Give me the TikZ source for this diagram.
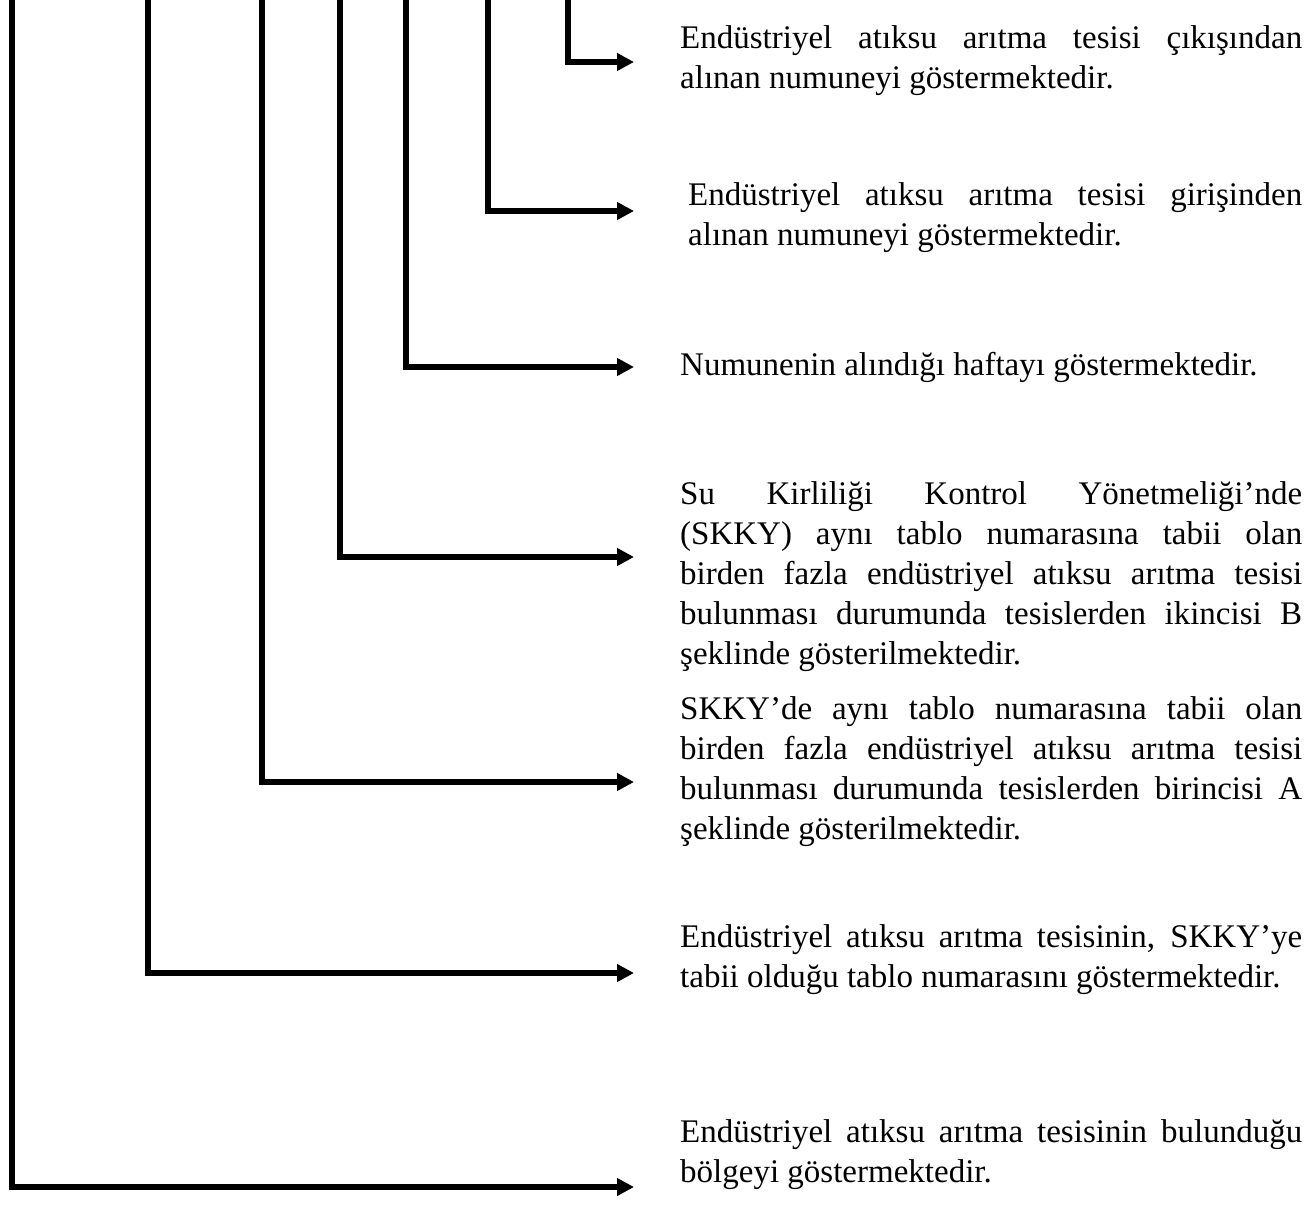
\documentclass[tikz,border=0pt]{standalone}
\usepackage{fontspec}
\setmainfont{Liberation Serif}
\usetikzlibrary{arrows.meta}
\hyphenpenalty=10000
\exhyphenpenalty=10000
\begin{document}
\begin{tikzpicture}[x=1pt,y=-1pt,
  leader/.style={line width=5.5pt,line join=miter,-{Triangle[length=17pt,width=17pt]}},
  desc/.style={anchor=west,inner sep=0pt,text width=622pt,align=justify,
    font=\fontsize{33pt}{40pt}\selectfont}]
\useasboundingbox (0,0) rectangle (1306,1223);
% tops of the lines
\coordinate (t1) at (568,0);
\coordinate (t2) at (488,0);
\coordinate (t3) at (406,0);
\coordinate (t4) at (340,0);
\coordinate (t5) at (262,0);
\coordinate (t6) at (148,0);
\coordinate (t7) at (12,0);
% arrow tips
\coordinate (e1) at (634,62);
\coordinate (e2) at (634,211);
\coordinate (e3) at (634,367);
\coordinate (e4) at (634,557);
\coordinate (e5) at (634,782);
\coordinate (e6) at (634,973);
\coordinate (e7) at (634,1187);
% texts
\node[desc] (d1) at (680,61) {Endüstriyel atıksu arıtma tesisi çıkışından\linebreak alınan numuneyi göstermektedir.};
\node[desc,text width=614pt] (d2) at (688,218) {Endüstriyel atıksu arıtma tesisi girişinden\linebreak alınan numuneyi göstermektedir.};
\node[desc] (d3) at (680,367) {Numunenin alındığı haftayı göstermektedir.};
\node[desc] (d4) at (680,577) {Su Kirliliği Kontrol Yönetmeliği’nde\linebreak (SKKY) aynı tablo numarasına tabii olan\linebreak birden fazla endüstriyel atıksu arıtma tesisi\linebreak bulunması durumunda tesislerden ikincisi B\linebreak şeklinde gösterilmektedir.};
\node[desc] (d5) at (680,772) {SKKY’de aynı tablo numarasına tabii olan\linebreak birden fazla endüstriyel atıksu arıtma tesisi\linebreak bulunması durumunda tesislerden birincisi A\linebreak şeklinde gösterilmektedir.};
\node[desc] (d6) at (680,960) {Endüstriyel atıksu arıtma tesisinin, SKKY’ye\linebreak tabii olduğu tablo numarasını göstermektedir.};
\node[desc] (d7) at (680,1155) {Endüstriyel atıksu arıtma tesisinin bulunduğu\linebreak bölgeyi göstermektedir.};
% leaders
\foreach \i in {1,...,7} \draw[leader] (t\i) |- (e\i);
\end{tikzpicture}
\end{document}
